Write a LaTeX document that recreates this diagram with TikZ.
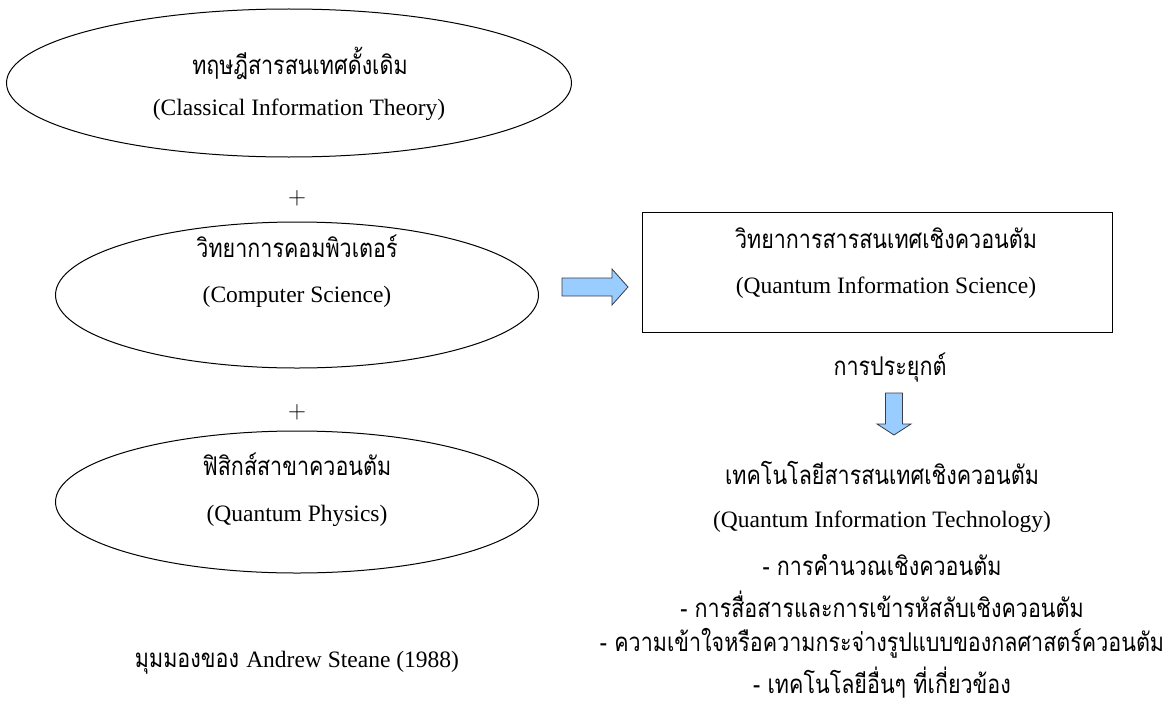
\documentclass[tikz,border=0pt]{standalone}
\usepackage{fontspec}
\setmainfont{Liberation Serif}
\newfontfamily\thaifont[Script=Thai]{Loma}
\usetikzlibrary{shapes.geometric}
\definecolor{arrowfill}{RGB}{153,204,255}
\definecolor{arrowline}{RGB}{60,60,70}
% Thai lines are set a little taller than the font's own proportions
\newcommand{\tallthai}[1]{\scalebox{1}[1.2]{#1}}
\begin{document}
\begin{tikzpicture}[x=1pt,y=-1pt,
  oval/.style={draw=black, line width=1pt, ellipse, inner sep=0pt},
  box/.style={draw=black, line width=1pt, rectangle, inner sep=0pt},
  th/.style={font=\thaifont\fontsize{21.5}{24}\selectfont, inner sep=0pt, anchor=center},
  en/.style={font=\fontsize{23.5}{27}\selectfont, inner sep=0pt, anchor=center},
  plus/.style={font=\fontsize{24}{26}\selectfont, inner sep=0pt, anchor=center},
  blockarrow/.style={draw=arrowline, fill=arrowfill, line width=0.8pt, line join=miter}
]
\useasboundingbox (0,0) rectangle (1166,709);

% three source fields
\node[oval, minimum width=565pt, minimum height=148pt] (classical) at (289,83) {};
\node[th] (classicalT) at (300,63) {\tallthai{ทฤษฎีสารสนเทศดั้งเดิม}};
\node[en] (classicalE) at (299,110) {(Classical Information Theory)};

\node[plus] (plusA) at (297,198) {$+$};

\node[oval, minimum width=483pt, minimum height=146pt] (cs) at (297,295) {};
\node[th] (csT) at (297,246) {\tallthai{วิทยาการคอมพิวเตอร์}};
\node[en] (csE) at (297,297) {(Computer Science)};

\node[plus] (plusB) at (297,412) {$+$};

\node[oval, minimum width=483pt, minimum height=142pt] (qp) at (297,502) {};
\node[th] (qpT) at (297,464) {\tallthai{ฟิสิกส์สาขาควอนตัม}};
\node[en] (qpE) at (297,516) {(Quantum Physics)};

\node[inner sep=0pt] (source) at (297,663) {\thaifont\fontsize{21.5}{24}\selectfont \tallthai{มุมมองของ} \rmfamily\fontsize{23.5}{27}\selectfont Andrew Steane (1988)};

% result field
\node[box, minimum width=470pt, minimum height=120pt] (qis) at (877,272) {};
\node[th] (qisT) at (886,238) {\tallthai{วิทยาการสารสนเทศเชิงควอนตัม}};
\node[en] (qisE) at (886,288) {(Quantum Information Science)};

% block arrow towards the result field
\coordinate (toqis) at (595,287);
\path[blockarrow, shift={(toqis)}]
  (-33,-9) -- (17,-9) -- (17,-18) -- (33,0) -- (17,18) -- (17,9) -- (-33,9) -- cycle;

\node[th] (apply) at (890,368) {\tallthai{การประยุกต์}};

% block arrow towards the applications
\coordinate (toqit) at (894,414);
\path[blockarrow, shift={(toqit)}]
  (-8.5,-21) -- (8.5,-21) -- (8.5,10) -- (17,10) -- (0,21) -- (-17,10) -- (-8.5,10) -- cycle;

% applications
\node[th] (qitT) at (882,473) {\tallthai{เทคโนโลยีสารสนเทศเชิงควอนตัม}};
\node[en] (qitE) at (882,522) {(Quantum Information Technology)};
\node[th] (app1) at (882,565) {\tallthai{- การคำนวณเชิงควอนตัม}};
\node[th] (app2) at (882,604) {\tallthai{- การสื่อสารและการเข้ารหัสลับเชิงควอนตัม}};
\node[th] (app3) at (882,643) {\tallthai{- ความเข้าใจหรือความกระจ่างรูปแบบของกลศาสตร์ควอนตัม}};
\node[th] (app4) at (882,683) {\tallthai{- เทคโนโลยีอื่นๆ ที่เกี่ยวข้อง}};
\end{tikzpicture}
\end{document}
